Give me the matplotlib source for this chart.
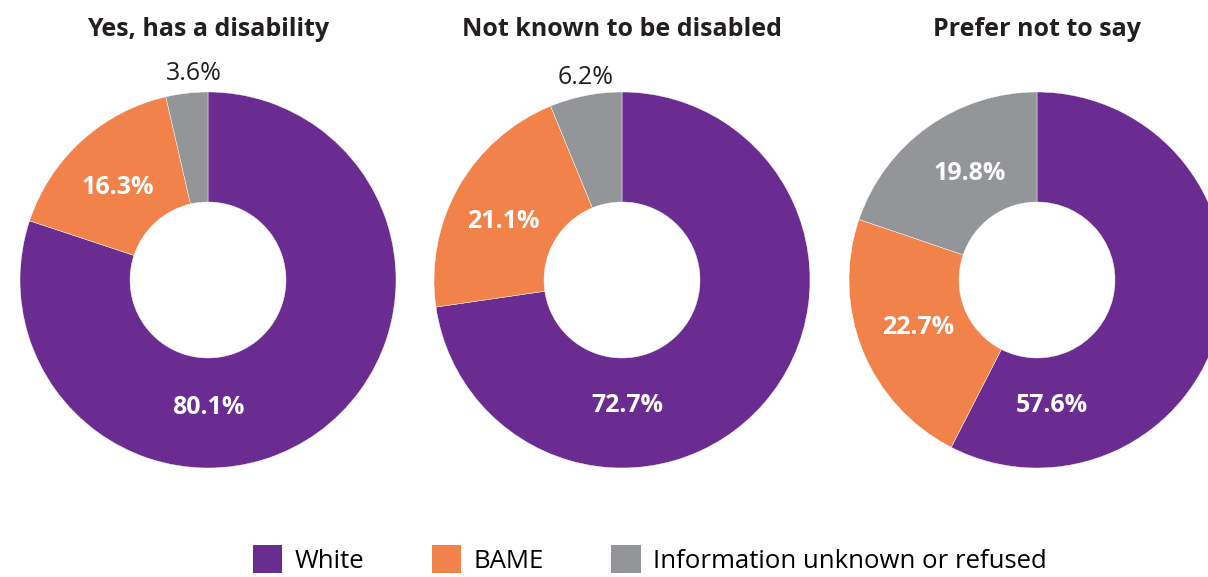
import matplotlib.pyplot as plt
from matplotlib.patches import Patch

plt.rcParams['font.family'] = ['Open Sans', 'DejaVu Sans']

titles = ['Yes, has a disability', 'Not known to be disabled', 'Prefer not to say']
categories = ['White', 'BAME', 'Information unknown or refused']
white = [80.1, 72.7, 57.6]
bame = [16.3, 21.1, 22.7]
unknown = [3.6, 6.2, 19.8]

colors = ['#6A2C91', '#F0824A', '#939598']

# donut layout in pixel coordinates (y measured upward)
W, H = 1208, 577
centers = [(208, 297), (622, 297), (1037, 297)]
R = 188
hole = 78
# label offsets from the centre (dx, dy) in pixels, per donut and wedge
label_off = [
    [(0, -128), (-90, 93), (-14, 206)],
    [(5, -125), (-119, 58), (-36, 203)],
    [(15, -126), (-119, -48), (-67, 107)],
]

fig = plt.figure(figsize=(W / 100, H / 100), dpi=100)
ax = fig.add_axes([0, 0, 1, 1])

for i, (cx, cy) in enumerate(centers):
    vals = [white[i], bame[i], unknown[i]]
    ax.pie(vals, colors=colors, startangle=90, counterclock=False,
           center=(cx, cy), radius=R,
           wedgeprops=dict(width=R - hole, linewidth=0.3, edgecolor='white'),
           frame=True)
    ax.text(cx, H - 30, titles[i], ha='center', va='center',
            fontsize=18, fontweight='bold', color='#231F20')
    for j, v in enumerate(vals):
        dx, dy = label_off[i][j]
        inside = (j < 2) or v > 10
        ax.text(cx + dx, cy + dy, f'{v:.1f}%', ha='center', va='center',
                fontsize=18,
                fontweight='bold' if inside else 'normal',
                color='white' if inside else '#231F20')

ax.set_xlim(0, W)
ax.set_ylim(0, H)
ax.set_aspect('equal')
ax.axis('off')

handles = [Patch(facecolor=c, edgecolor='none') for c in colors]
fig.legend(handles, categories, loc='lower center', bbox_to_anchor=(0.538, -0.035),
           ncol=3, frameon=False, fontsize=18.5, handlelength=1.15, handleheight=1.3,
           handletextpad=0.5, columnspacing=2.6)

fig.savefig('out.png', dpi=100, facecolor='white')
